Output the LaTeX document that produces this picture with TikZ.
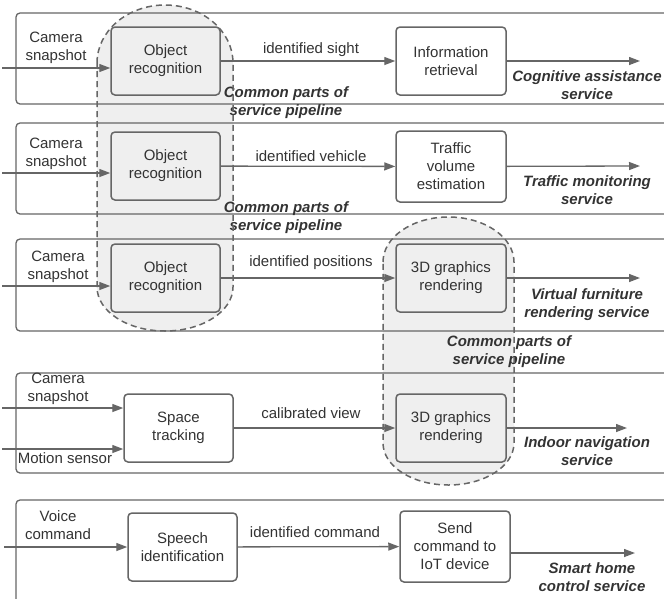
\documentclass[tikz,border=0pt]{standalone}
\usepackage{fontspec}
\setmainfont{Liberation Sans}
\usetikzlibrary{arrows.meta}
\definecolor{lc}{HTML}{666666}
\definecolor{tc}{HTML}{333333}
\definecolor{rg}{HTML}{EFEFEF}
\newcommand{\labfont}{\fontsize{15}{18}\selectfont}
\begin{document}
\begin{tikzpicture}[x=1pt,y=-1pt,
  panel/.style={draw=lc,line width=1.3pt,rounded corners=4pt},
  proc/.style={draw=lc,line width=1.5pt,rounded corners=4pt,fill=white,minimum width=109pt,minimum height=68pt,inner sep=0pt,align=center,font=\labfont,text=tc},
  shared/.style={proc,fill=rg},
  arr/.style={draw=lc,line width=1.3pt,-{Triangle[length=11pt,width=8pt]}},
  lbl/.style={align=center,font=\labfont,text=tc,inner sep=0pt},
  svc/.style={align=center,font=\labfont\bfseries\itshape,text=tc,inner sep=0pt},
  regline/.style={draw=lc,line width=1.5pt,dash pattern=on 6pt off 4pt}]
\useasboundingbox (0,0) rectangle (664,598);
\clip (0,0) rectangle (664,598);
% shared regions (fill)
\fill[rg] (97,63) arc[start angle=180,end angle=360,x radius=68,y radius=58] -- (233,287) arc[start angle=0,end angle=180,x radius=68,y radius=44] -- cycle;
\fill[rg] (383,262) arc[start angle=180,end angle=360,x radius=65.5,y radius=45] -- (514,443) arc[start angle=0,end angle=180,x radius=65.5,y radius=42] -- cycle;
% panels
\draw[panel] (16,13) rectangle (720,104);
\draw[panel] (16,123) rectangle (720,214);
\draw[panel] (16,239) rectangle (720,331);
\draw[panel] (16,373) rectangle (720,473);
\draw[panel] (16,500) rectangle (720,650);
% boxes
\node[shared] (or1) at (165.5,61) {Object\\recognition};
\node[shared] (or2) at (165.5,166) {Object\\recognition};
\node[shared] (or3) at (165.5,278) {Object\\recognition};
\node[proc,minimum width=110pt] (ir) at (451,61) {Information\\retrieval};
\node[proc,minimum width=110pt,minimum height=71pt] (tv) at (451,166.5) {Traffic\\volume\\estimation};
\node[shared,minimum width=110pt] (gr1) at (451,278) {3D graphics\\rendering};
\node[proc] (st) at (178.5,428) {Space\\tracking};
\node[shared,minimum width=110pt] (gr2) at (451,428) {3D graphics\\rendering};
\node[proc] (sp) at (182.5,547) {Speech\\identification};
\node[proc,minimum width=110pt,minimum height=71pt] (sc) at (455,546.5) {Send\\command to\\IoT device};
% free ends
\coordinate (i1) at (2,68);
\coordinate (i2) at (2,173);
\coordinate (i3) at (2,286);
\coordinate (i4a) at (2,408);
\coordinate (i4b) at (2,449);
\coordinate (i5) at (4,547);
\coordinate (o1) at (640,61);
\coordinate (o2) at (640,166);
\coordinate (o3) at (640,278);
\coordinate (o4) at (627,428);
\coordinate (o5) at (635,553);
% arrows
\draw[arr] (i1) -- (or1.west |- i1);
\draw[arr] (i2) -- (or2.west |- i2);
\draw[arr] (i3) -- (or3.west |- i3);
\draw[arr] (i4a) -- (st.west |- i4a);
\draw[arr] (i4b) -- (st.west |- i4b);
\draw[arr] (i5) -- (sp.west |- i5);
\draw[arr] (or1) -- (ir);
\draw[arr] (or2) -- (tv);
\draw[arr] (or3) -- (gr1);
\draw[arr] (st) -- (gr2);
\draw[arr] (sp) -- (sc);
\draw[arr] (ir) -- (o1);
\draw[arr] (tv) -- (o2);
\draw[arr] (gr1) -- (o3);
\draw[arr] (gr2) -- (o4);
\draw[arr] (sc.east |- o5) -- (o5);
% input labels
\node[lbl] (c1) at (56,48) {Camera\\snapshot};
\node[lbl] (c2) at (56,154) {Camera\\snapshot};
\node[lbl] (c3) at (58,267) {Camera\\snapshot};
\node[lbl] (c4) at (58,389) {Camera\\snapshot};
\node[lbl] (ms) at (65,458) {Motion sensor};
\node[lbl] (vc) at (58,525) {Voice\\command};
% middle labels
\node[lbl] (m1) at (311,50) {identified sight};
\node[lbl] (m2) at (311,156) {identified vehicle};
\node[lbl] (m3) at (311,263) {identified positions};
\node[lbl] (m4) at (311,413) {calibrated view};
\node[lbl] (m5) at (315,532) {identified command};
% service labels
\node[svc] (s1) at (587,85) {Cognitive assistance\\service};
\node[svc] (s2) at (587,190) {Traffic monitoring\\service};
\node[svc] (s3) at (587,305) {Virtual furniture\\rendering service};
\node[svc] (s4) at (587,451) {Indoor navigation\\service};
\node[svc] (s5) at (592,577) {Smart home\\control service};
% common labels
\node[svc] (k1) at (286,103) {Common parts of\\service pipeline};
\node[svc] (k2) at (286,218) {Common parts of\\service pipeline};
\node[svc] (k3) at (509,352) {Common parts of\\service pipeline};
% shared region outlines
\draw[regline] (97,63) arc[start angle=180,end angle=360,x radius=68,y radius=58] -- (233,287) arc[start angle=0,end angle=180,x radius=68,y radius=44] -- cycle;
\draw[regline] (383,262) arc[start angle=180,end angle=360,x radius=65.5,y radius=45] -- (514,443) arc[start angle=0,end angle=180,x radius=65.5,y radius=42] -- cycle;
\end{tikzpicture}
\end{document}
